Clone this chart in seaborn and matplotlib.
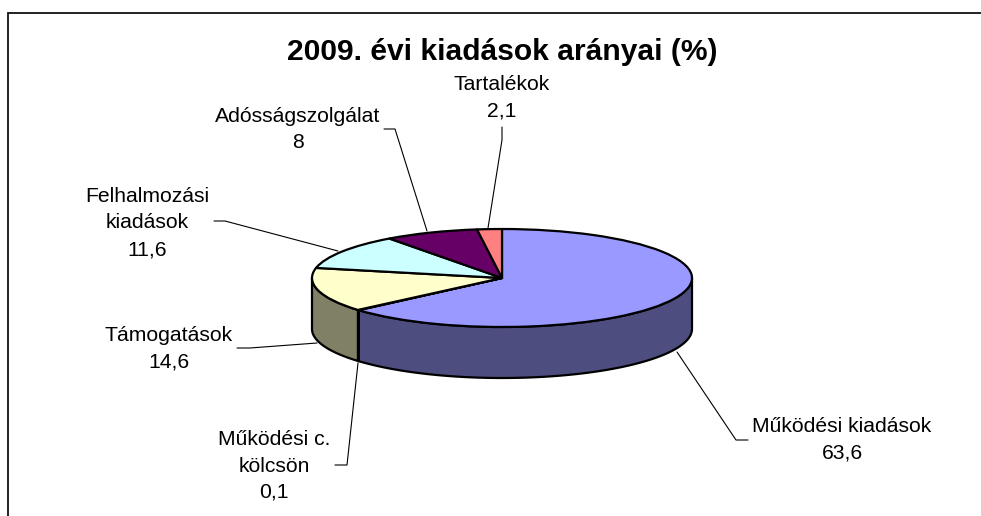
import numpy as np
import matplotlib
matplotlib.use('Agg')
import matplotlib.pyplot as plt
import seaborn as sns

# data
categories = ['Működési kiadások', 'Működési c.\nkölcsön', 'Támogatások',
              'Felhalmozási\nkiadások', 'Adósságszolgálat', 'Tartalékok']
values = [63.6, 0.1, 14.6, 11.6, 8, 2.1]
title = '2009. évi kiadások arányai (%)'
top_colors = ['#9999FF', '#993366', '#FFFFCC', '#CCFFFF', '#660066', '#FF8080']
side_colors = ['#4D4D80', '#4D1A33', '#808066', '#668080', '#330033', '#804040']

sns.set_theme(style='white')
plt.rcParams['font.family'] = ['Liberation Sans', 'DejaVu Sans']

W, H = 981, 516
fig = plt.figure(figsize=(W / 100, H / 100), dpi=100, facecolor='white')

# whole figure in pixels, for frame, texts and leader lines
bg = fig.add_axes([0, 0, 1, 1])
bg.set_xlim(0, W)
bg.set_ylim(H, 0)
bg.axis('off')

# pie geometry in pixels
cx, cy, rx, ry, depth = 502, 278, 190, 49, 51
ax_w, y_top, y_bot = 2.5 * rx, 1.25 * ry, 3.0 * ry
ax = fig.add_axes([(cx - ax_w / 2) / W, (H - cy - y_bot) / H,
                   ax_w / W, (y_top + y_bot) / H])
ax.patch.set_alpha(0)

line_kw = dict(edgecolor='black', linewidth=1.6)
d = depth / ry

# side walls, only the part of each slice facing the viewer
edges = np.cumsum([0] + values) / sum(values) * 360
for i in range(len(values)):
    a1, a2 = max(edges[i], 90), min(edges[i + 1], 270)
    if a2 <= a1:
        continue
    t = np.radians(np.linspace(a1, a2, 80))
    x, y = np.sin(t), np.cos(t)
    ax.fill(np.r_[x, x[::-1]], np.r_[y, y[::-1] - d], facecolor=side_colors[i],
            joinstyle='round', zorder=1, **line_kw)

wedges, _ = ax.pie(values, colors=sns.color_palette(top_colors), startangle=90,
                   counterclock=False, radius=1, wedgeprops=dict(joinstyle='round', **line_kw))
for w in wedges:
    w.set_zorder(2)
ax.set_aspect('auto')
ax.set_xlim(-1.25, 1.25)
ax.set_ylim(-3.0, 1.25)
ax.axis('off')

# frame of the chart area, cut off at right and bottom
bg.plot([7.5, 7.5, W], [H, 13, 13], color='#111111', lw=1.3, solid_joinstyle='miter')

bg.text(502, 52, title, ha='center', va='center', fontsize=21.6, fontweight='bold', color='black')

label_pos = [(842, 439.5), (274, 466), (169, 348.5), (147, 223), (298, 129.5), (502, 98)]
leaders = [
    [(677, 352), (736, 440), (748, 440)],
    [(358, 363), (347, 465), (335, 465)],
    [(317, 343), (250, 348), (237, 348)],
    [(338, 251), (225, 221), (214, 221)],
    [(427, 231), (395, 129), (384, 129)],
    [(488, 228), (502, 140), (502, 127)],
]

for name, val, (tx, ty), pts in zip(categories, values, label_pos, leaders):
    txt = name + '\n' + f'{val:g}'.replace('.', ',')
    bg.text(tx, ty, txt, ha='center', va='center', fontsize=15.25, color='black',
            linespacing=1.5, multialignment='center')
    xs, ys = zip(*pts)
    bg.plot(xs, ys, color='black', lw=0.8)

fig.savefig('out.png', dpi=100)
